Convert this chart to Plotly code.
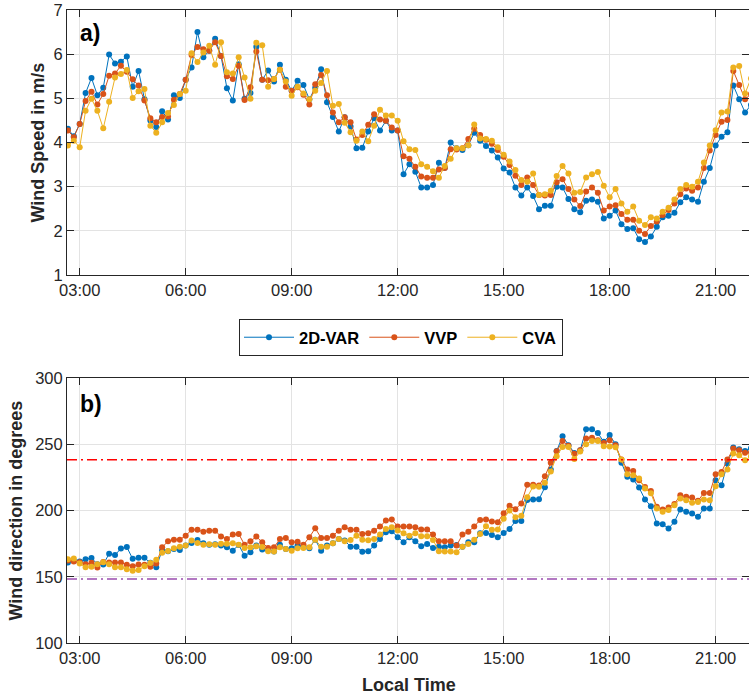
import pandas as pd
import plotly.graph_objects as go

# ---------------- data ----------------
start_time = "2021-06-01 02:40"
n_points = 117
times = pd.date_range(start_time, periods=n_points, freq="10min")

series_names = ["2D-VAR", "VVP", "CVA"]
series_colors = ["#0072BD", "#D95319", "#EDB120"]

speed_2dvar = [4.31,4.14,4.42,5.12,5.46,5.07,5.24,5.99,5.79,5.83,
 5.95,5.26,5.62,4.98,4.50,4.35,4.71,4.52,5.07,5.01,
 5.42,5.70,6.50,5.93,6.08,6.35,5.96,5.23,4.95,5.77,
 4.99,5.12,6.17,5.42,5.63,5.38,5.76,5.42,5.17,5.40,
 5.30,4.98,5.24,5.66,4.91,4.58,4.25,4.57,4.36,3.87,
 3.88,4.25,4.55,4.27,4.49,4.27,4.27,3.28,3.51,3.34,
 2.98,2.98,3.04,3.54,3.43,4.00,3.87,3.83,3.94,4.22,
 4.04,3.92,3.82,3.66,3.41,3.32,2.98,2.80,2.98,2.79,
 2.49,2.57,2.57,3.00,2.98,2.72,2.49,2.42,2.68,2.71,
 2.66,2.28,2.34,2.46,2.15,2.04,2.06,1.81,1.75,1.87,
 2.09,2.31,2.34,2.41,2.65,2.76,2.71,2.66,3.11,3.42,
 3.93,4.13,4.23,5.29,4.98,4.68,4.85]

speed_vvp = [4.27,4.12,4.42,4.94,5.15,4.86,5.10,5.51,5.56,5.74,
 5.60,5.43,5.29,4.95,4.55,4.46,4.58,4.59,4.97,5.10,
 5.42,5.98,6.16,6.11,6.08,6.27,5.96,5.50,5.44,5.74,
 4.96,5.25,6.06,5.42,5.41,5.44,5.65,5.26,5.17,5.25,
 5.08,4.86,5.32,5.53,5.07,4.68,4.46,4.57,4.46,4.07,
 4.17,4.40,4.64,4.52,4.49,4.34,4.27,3.69,3.63,3.45,
 3.23,3.20,3.20,3.39,3.42,3.85,3.84,3.87,4.08,4.31,
 4.17,4.06,3.97,3.83,3.68,3.49,3.25,3.04,3.21,3.04,
 2.81,2.80,2.81,3.10,3.17,2.95,2.71,2.56,2.89,2.98,
 2.86,2.46,2.55,2.58,2.38,2.25,2.25,2.00,1.93,2.11,
 2.21,2.36,2.47,2.62,2.83,2.96,2.91,2.98,3.42,3.82,
 4.17,4.47,4.51,5.62,5.30,4.98,5.10]

speed_cva = [3.93,4.04,3.89,4.72,4.99,4.72,4.32,4.92,5.47,5.55,
 5.64,5.01,5.16,5.21,4.38,4.22,4.46,4.67,4.85,5.10,
 5.17,6.02,5.82,6.04,6.19,5.76,6.27,5.59,5.56,5.93,
 5.47,4.99,6.26,6.20,5.26,5.44,5.65,5.38,5.06,5.26,
 5.11,4.98,5.17,5.35,5.62,4.83,4.87,4.45,4.23,4.04,
 4.25,4.03,4.38,4.74,4.61,4.61,4.49,4.03,3.85,3.83,
 3.51,3.45,3.35,3.20,3.47,3.63,3.87,3.87,3.94,4.41,
 4.09,4.08,4.04,3.89,3.72,3.57,3.38,3.15,3.11,3.30,
 2.81,2.83,2.91,3.24,3.47,3.30,2.86,2.88,3.21,3.28,
 3.33,3.02,2.76,2.95,2.62,2.43,2.55,2.23,2.13,2.31,
 2.28,2.43,2.52,2.71,2.95,3.04,3.00,3.11,3.55,3.93,
 4.28,4.68,4.70,5.70,5.73,5.11,5.45]

dir_2dvar = [160.7,161.8,161.5,163.3,164.2,159.5,159.3,167.4,166.4,171.3,
 172.4,163.5,164.3,164.3,160.5,157.2,170.0,169.2,171.0,170.2,
 173.5,175.5,177.8,175.3,174.2,174.5,173.5,172.2,169.7,174.0,
 165.9,168.4,173.5,170.5,170.5,169.0,174.2,171.0,171.5,173.5,
 173.0,171.5,178.0,169.7,173.5,175.3,178.5,177.3,172.7,172.7,
 168.9,169.2,173.5,178.5,183.6,184.3,179.8,176.0,179.8,176.8,
 173.0,174.7,171.7,172.7,172.2,173.5,174.0,172.7,176.0,176.0,
 182.8,183.0,181.6,179.8,183.0,186.0,192.0,192.0,208.0,208.3,
 208.5,217.5,231.0,245.0,256.0,249.2,243.4,245.5,261.4,261.4,
 258.5,251.8,257.0,250.0,236.0,225.4,223.4,217.3,208.3,203.3,
 190.2,189.7,186.4,191.5,200.8,199.0,197.7,195.2,201.5,201.5,
 222.9,219.1,235.4,247.5,246.2,245.0,247.0]

dir_vvp = [162.3,161.6,161.0,159.5,160.5,157.0,161.2,160.7,160.8,160.8,
 159.0,158.0,159.2,159.0,157.5,160.0,172.2,176.8,178.0,178.0,
 181.0,185.4,185.4,184.0,184.8,184.8,180.3,178.5,181.8,182.3,
 174.2,176.8,180.3,176.0,171.7,172.2,178.5,179.3,176.0,176.5,
 174.2,179.8,186.6,179.3,179.3,181.0,184.8,187.4,185.4,185.4,
 182.3,182.8,184.8,187.9,192.4,193.2,188.0,187.9,187.9,187.4,
 185.6,185.6,181.8,176.8,176.8,176.8,173.5,181.8,184.0,187.9,
 192.9,193.2,191.7,191.2,198.0,203.5,201.0,205.3,219.5,219.4,
 218.8,225.8,236.0,244.7,252.5,248.8,242.9,245.5,254.3,255.0,
 253.0,251.0,253.0,249.2,238.4,230.9,229.9,222.8,217.8,214.8,
 202.8,200.8,202.3,205.0,211.6,210.3,209.8,207.3,213.3,213.3,
 227.4,229.1,238.4,246.7,245.5,243.5,244.0]

dir_cva = [163.3,163.8,160.0,157.2,157.5,159.4,161.0,159.5,157.2,157.2,
 155.7,154.5,155.0,158.0,160.3,162.8,168.2,169.5,171.5,172.7,
 173.5,177.3,175.5,174.2,174.5,174.2,175.0,175.0,175.3,174.2,
 171.7,172.2,173.0,172.5,169.2,169.0,172.2,171.0,169.7,171.5,
 171.7,172.2,178.0,172.7,172.7,175.3,178.5,176.8,177.8,181.0,
 178.0,177.5,178.5,181.8,186.1,187.4,185.0,182.8,181.0,182.8,
 180.6,180.6,177.8,169.2,169.0,169.0,168.4,172.7,174.7,178.0,
 182.3,188.1,185.4,185.6,193.7,200.0,195.0,196.0,210.0,218.2,
 218.0,221.0,229.5,241.0,248.0,248.0,238.8,244.5,250.0,252.5,
 252.5,248.5,248.3,247.8,238.4,227.4,226.6,224.1,216.6,213.0,
 201.5,199.0,200.3,204.0,209.0,207.8,205.8,206.5,208.3,207.8,
 218.3,227.4,230.9,243.0,241.7,237.9,241.0]

ref_dir_upper = 238.3
ref_dir_lower = 148.3
ref_colors = ["#FF0000", "#9B4DB0"]

tick_times = ["03:00", "06:00", "09:00", "12:00", "15:00", "18:00", "21:00"]
speed_ticks = [1, 2, 3, 4, 5, 6, 7]
dir_ticks = [100, 150, 200, 250, 300]

# ---------------- figure ----------------
W, H = 749, 696
day = "2021-06-01 "
x_range = [day + "02:38:26", day + "21:56:38"]
tickvals = [day + t for t in tick_times]

def fx(px):
    return px / W

def fy(px):
    return 1 - px / H

fig = go.Figure()
speed_series = [speed_2dvar, speed_vvp, speed_cva]
dir_series = [dir_2dvar, dir_vvp, dir_cva]

for name, col, ys in zip(series_names, series_colors, speed_series):
    fig.add_trace(go.Scatter(x=times, y=ys, mode="lines+markers", name="<b>" + name + "</b>",
                             line=dict(color=col, width=1), marker=dict(color=col, size=6),
                             xaxis="x", yaxis="y", legendgroup=name))
for name, col, ys in zip(series_names, series_colors, dir_series):
    fig.add_trace(go.Scatter(x=times, y=ys, mode="lines+markers", name=name,
                             line=dict(color=col, width=1), marker=dict(color=col, size=6),
                             xaxis="x2", yaxis="y2", showlegend=False, legendgroup=name))

for val, col in zip([ref_dir_upper, ref_dir_lower], ref_colors):
    fig.add_trace(go.Scatter(x=[x_range[0], x_range[1]], y=[val, val], mode="lines",
                             line=dict(color=col, width=1.6, dash="10px,4px,2px,4px"),
                             xaxis="x2", yaxis="y2", showlegend=False, hoverinfo="skip"))

axis_col = "#262626"
grid_col = "#E3E3E3"
font_fam = "Liberation Sans, Arial, Helvetica"
tick_font = dict(family=font_fam, size=16.5, color=axis_col)
common_x = dict(type="date", range=x_range, tickvals=tickvals, ticktext=tick_times,
                showgrid=True, gridcolor=grid_col, gridwidth=1, showline=True, linecolor=axis_col,
                linewidth=1, mirror="ticks", ticks="inside", ticklen=7, tickcolor=axis_col,
                tickfont=tick_font, zeroline=False, domain=[fx(67), 1.0], automargin=False)
common_y = dict(showgrid=True, gridcolor=grid_col, gridwidth=1, showline=True, linecolor=axis_col,
                linewidth=1, mirror="ticks", ticks="inside", ticklen=7, tickcolor=axis_col,
                tickfont=tick_font, zeroline=False, automargin=False)

fig.update_layout(
    width=W, height=H, margin=dict(l=0, r=0, t=0, b=0, autoexpand=False),
    paper_bgcolor="white", plot_bgcolor="white",
    font=dict(family=font_fam, color=axis_col),
    xaxis=dict(common_x, anchor="y"),
    yaxis=dict(common_y, range=[1, 7], tickvals=speed_ticks, domain=[fy(275), fy(10)], anchor="x"),
    xaxis2=dict(common_x, anchor="y2"),
    yaxis2=dict(common_y, range=[100, 300], tickvals=dir_ticks, domain=[fy(643), fy(378)], anchor="x2"),
    legend=dict(orientation="h", x=fx(239), y=fy(319), xanchor="left", yanchor="top",
                bordercolor=axis_col, borderwidth=1, bgcolor="white",
                font=dict(family=font_fam, size=16.5, color="black"),
                itemwidth=50, tracegroupgap=0),
    showlegend=True,
)

title_font = dict(family=font_fam, size=18, color=axis_col)
ann = [
    dict(text="<b>Wind Speed in m/s</b>", x=fx(37), y=fy(142.5), textangle=-90, font=title_font),
    dict(text="<b>Wind direction in degrees</b>", x=fx(15), y=fy(510.5), textangle=-90, font=title_font),
    dict(text="<b>Local Time</b>", x=fx(409), y=fy(685), font=title_font),
    dict(text="<b>a)</b>", x=fx(78), y=fy(33), xanchor="left",
         font=dict(family=font_fam, size=23, color="black")),
    dict(text="<b>b)</b>", x=fx(78), y=fy(404), xanchor="left",
         font=dict(family=font_fam, size=23, color="black")),
]
for a in ann:
    a.setdefault("xanchor", "center")
    a.update(xref="paper", yref="paper", yanchor="middle", showarrow=False)
fig.update_layout(annotations=ann)

fig.write_html("out.html", config={"displayModeBar": False, "responsive": False},
               post_script="document.body.style.margin='0px';")
